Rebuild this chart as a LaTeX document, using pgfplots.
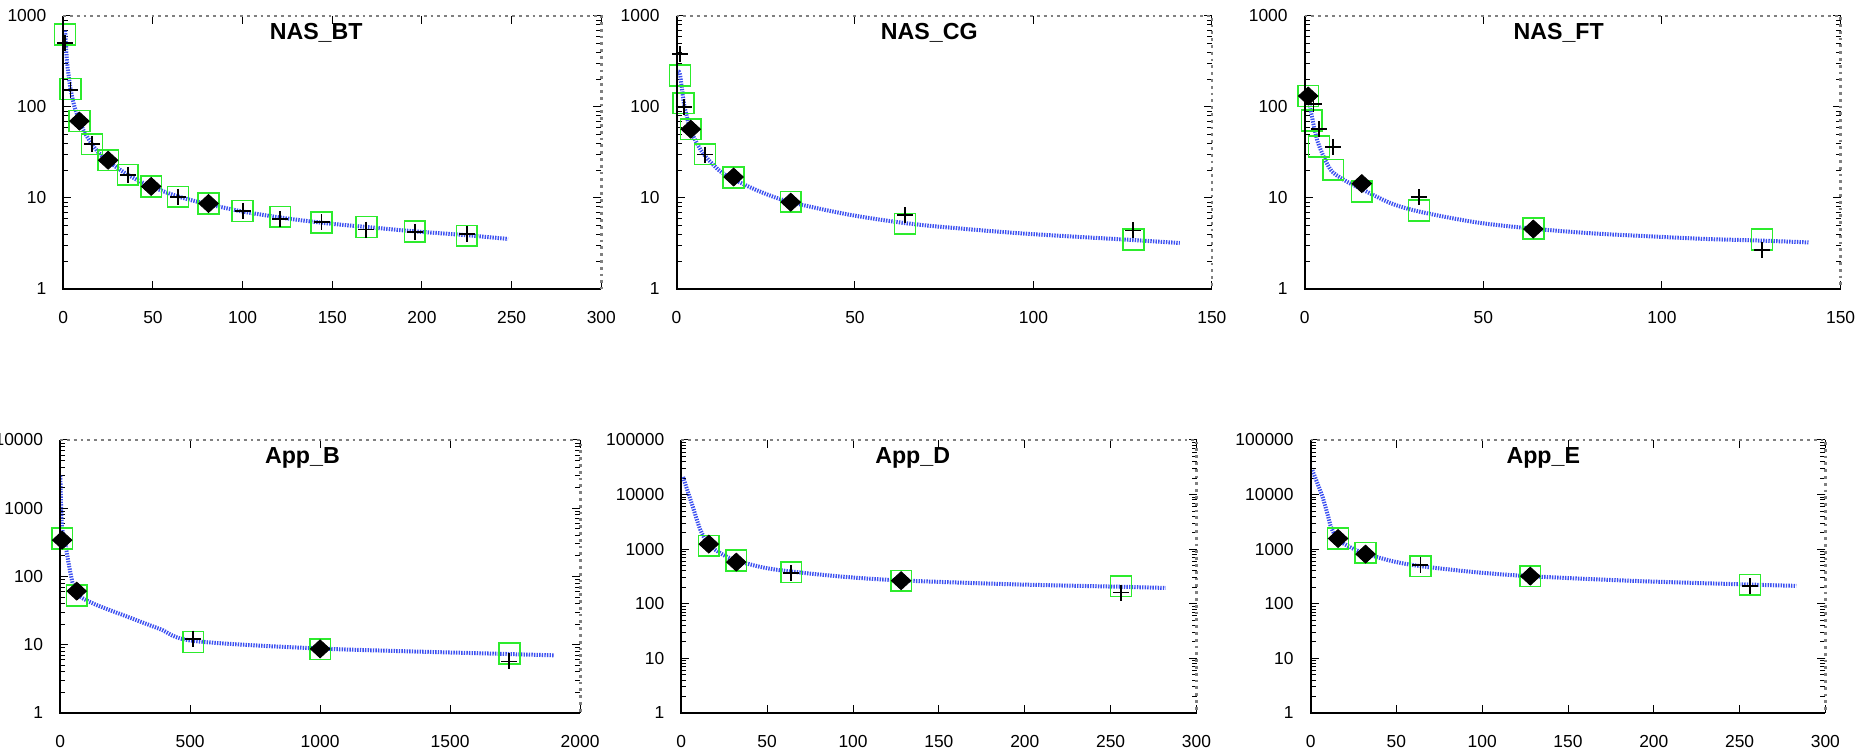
\documentclass[border=0pt]{standalone}
\usepackage{fontspec}
\setmainfont{Liberation Sans}
\usepackage{pgfplots}
\pgfplotsset{compat=1.18}
\definecolor{fitblue}{RGB}{60,80,240}
\definecolor{sqgreen}{RGB}{45,235,45}
\pgfplotsset{
  rsPanel/.style={
    scale only axis, height=136.5pt, xmin=0, ymin=1,
    clip mode=individual,
    axis line style={draw=none},
    tick style={black, line width=0.5pt},
    major tick length=4pt, minor tick length=2.5pt,
    tick align=inside,
    ticklabel style={font=\fontsize{8.7}{9}\selectfont},
    xticklabel style={yshift=-7.5pt},
    yticklabel style={xshift=-5pt},
    xticklabel={\pgfmathprintnumber[1000 sep={},assume math mode=true]{\tick}},
    title style={anchor=north, yshift=-6pt, font=\bfseries\fontsize{11.6}{13}\selectfont},
  },
  rsFit/.style={draw=fitblue, line width=2pt, dash pattern=on 0.7pt off 0.6pt, mark=none, smooth},
  rsSq/.style={only marks, mark=square, mark size=5.2pt, mark options={draw=sqgreen, line width=0.8pt}},
  rsPl/.style={only marks, mark=+, mark size=4pt, mark options={draw=black, line width=0.9pt}},
  rsDm/.style={only marks, mark=diamond*, mark size=4.5pt, mark options={draw=black, fill=black, xscale=1.45}},
}
\newcommand{\frameit}{%
  \draw[black, line width=1pt] (rel axis cs:0,1) -- (rel axis cs:0,0) -- (rel axis cs:1,0);
  \draw[gray, line width=1.4pt, dotted] (rel axis cs:0,1) -- (rel axis cs:1,1) -- (rel axis cs:1,0);
}
\begin{document}
\begin{tikzpicture}
\path[use as bounding box] (0pt,0pt) rectangle (936.5pt,374.5pt);

% ---------- NAS_BT ----------
\begin{axis}[rsPanel, ymode=log, at={(31.65pt,230pt)}, anchor=south west, width=269pt,
  xmax=300, ymax=1000, xtick={0,50,...,300},
  ytick={1,10,100,1000}, yticklabels={1,10,100,1000},
  title={NAS\_BT}, title style={at={(0.47,1)}}]
\addplot[rsFit] coordinates {(1,690)(2,330)(3,220)(4,160)(6,105)(9,70)(12,52)(16,39)(20,31)(25,25.5)(30,21.5)(36,18)(42,15.5)(49,13.4)(56,11.8)(64,10.4)(72,9.4)(81,8.5)(90,7.8)(100,7.1)(121,6.1)(144,5.35)(169,4.8)(196,4.3)(225,3.9)(248,3.55)};
\addplot[rsSq] coordinates {(1,624)(4,158)(9,70)(16,39)(25,26)(36,18)(49,13.4)(64,10.3)(81,8.7)(100,7.2)(121,6.2)(144,5.4)(169,4.8)(196,4.3)(225,3.85)};
\addplot[rsPl] coordinates {(1,500)(4,155)(16,39)(36,18)(64,10.3)(100,7.2)(121,5.9)(144,5.4)(169,4.5)(196,4.2)(225,4.0)};
\addplot[rsDm] coordinates {(9,70)(25,26)(49,13.4)(81,8.7)};
\frameit
\end{axis}

% ---------- NAS_CG ----------
\begin{axis}[rsPanel, ymode=log, at={(338.25pt,230pt)}, anchor=south west, width=267.7pt,
  xmax=150, ymax=1000, xtick={0,50,...,150},
  ytick={1,10,100,1000}, yticklabels={1,10,100,1000},
  title={NAS\_CG}, title style={at={(0.472,1)}}]
\addplot[rsFit] coordinates {(0.5,245)(1,225)(2,115)(3,75)(4,55)(6,38)(8,29)(12,20)(16,16)(24,11.5)(32,9.0)(48,6.6)(64,5.3)(80,4.6)(96,4.1)(112,3.75)(128,3.45)(141,3.2)};
\addplot[rsSq] coordinates {(1,221)(2,110)(4,57)(8,30.3)(16,16.8)(32,9.1)(64,5.2)(128,3.5)};
\addplot[rsPl] coordinates {(1,383)(2,101)(8,30)(64,6.5)(128,4.4)};
\addplot[rsDm] coordinates {(4,57)(16,17)(32,9)};
\frameit
\end{axis}

% ---------- NAS_FT ----------
\begin{axis}[rsPanel, ymode=log, at={(652.3pt,230pt)}, anchor=south west, width=268pt,
  xmax=150, ymax=1000, xtick={0,50,...,150},
  ytick={1,10,100,1000}, yticklabels={1,10,100,1000},
  title={NAS\_FT}, title style={at={(0.474,1)}}]
\addplot[rsFit] coordinates {(1,125)(2,80)(3,52)(4,38)(6,25)(8,19)(12,15)(16,12.5)(24,8.8)(32,7.1)(48,5.4)(64,4.6)(80,4.1)(96,3.8)(112,3.55)(128,3.4)(141,3.25)};
\addplot[rsSq] coordinates {(1,132)(2,71)(4,36.8)(8,20.4)(16,11.8)(32,7.3)(64,4.6)(128,3.5)};
\addplot[rsPl] coordinates {(2.5,107)(4,57)(8,36.5)(32,10.2)(128,2.7)};
\addplot[rsDm] coordinates {(1,132)(16,14.4)(64,4.56)};
\frameit
\end{axis}

% ---------- App_B ----------
\begin{axis}[rsPanel, ymode=log, at={(30.05pt,18pt)}, anchor=south west, width=260pt,
  xmax=2000, ymax=10000, xtick={0,500,...,2000},
  ytick={1,10,100,1000,10000}, yticklabels={1,10,100,1000,10000},
  title={App\_B}, title style={at={(0.466,1)}}]
\addplot[rsFit] coordinates {(1,3000)(4,1000)(8,500)(20,300)(35,140)(50,75)(64,55)(128,40)(256,26)(384,17)(512,11.4)(1000,8.8)(1728,7.3)(1900,7.0)};
\addplot[rsSq] coordinates {(8,361)(64,53)(512,11)(1000,8.6)(1728,7.4)};
\addplot[rsPl] coordinates {(512,12.3)(1728,5.7)};
\addplot[rsDm] coordinates {(8,341)(64,61)(1000,8.7)};
\frameit
\end{axis}

% ---------- App_D ----------
\begin{axis}[rsPanel, ymode=log, at={(340.65pt,18pt)}, anchor=south west, width=257.6pt,
  xmax=300, ymax=100000, xtick={0,50,...,300},
  ytick={1,10,100,1000,10000,100000}, yticklabels={1,10,100,1000,10000,100000},
  title={App\_D}, title style={at={(0.449,1)}}]
\addplot[rsFit] coordinates {(1,21000)(3,13500)(5,8700)(7,5600)(9,3500)(11,2300)(13,1700)(16,1200)(24,800)(32,620)(48,460)(64,390)(96,310)(128,268)(192,228)(256,205)(282,195)};
\addplot[rsSq] coordinates {(16,1154)(32,621)(64,380)(128,263)(256,210)};
\addplot[rsPl] coordinates {(64,370)(256,161)};
\addplot[rsDm] coordinates {(16,1240)(32,580)(128,265)};
\frameit
\end{axis}

% ---------- App_E ----------
\begin{axis}[rsPanel, ymode=log, at={(655.3pt,18pt)}, anchor=south west, width=257.4pt,
  xmax=300, ymax=100000, xtick={0,50,...,300},
  ytick={1,10,100,1000,10000,100000}, yticklabels={1,10,100,1000,10000,100000},
  title={App\_E}, title style={at={(0.452,1)}}]
\addplot[rsFit] coordinates {(1,28000)(4,16000)(7,9000)(10,4200)(12,2500)(16,1500)(24,1050)(32,830)(48,600)(64,490)(96,380)(128,320)(192,260)(256,225)(283,213)};
\addplot[rsSq] coordinates {(16,1573)(32,859)(64,489)(128,321)(256,222)};
\addplot[rsPl] coordinates {(64,510)(256,210)};
\addplot[rsDm] coordinates {(16,1570)(32,813)(128,321)};
\frameit
\end{axis}
\end{tikzpicture}
\end{document}
